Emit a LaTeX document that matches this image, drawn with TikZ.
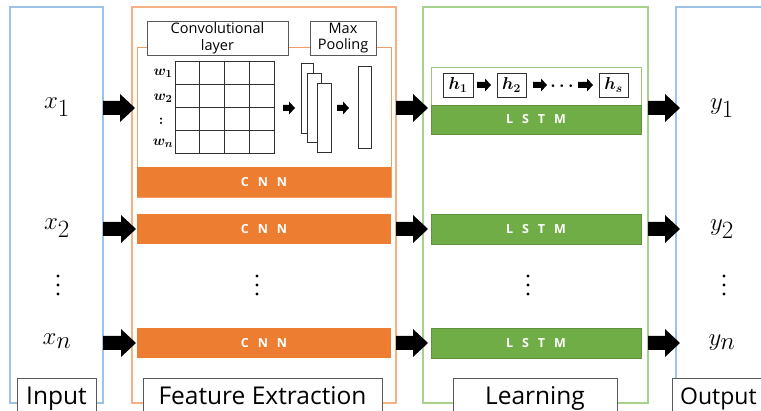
\documentclass[tikz,border=0pt]{standalone}
\usepackage[no-math]{fontspec}
\setmainfont{Open Sans}
\usepackage{bm}
\usetikzlibrary{calc}
\definecolor{cnnor}{HTML}{ED7D31}
\definecolor{lstmgr}{HTML}{70AD47}
\definecolor{lightor}{HTML}{F4B183}
\definecolor{lightgr}{HTML}{A9D18E}
\definecolor{lightbl}{HTML}{9DC3E6}
\definecolor{lblgray}{HTML}{595959}
\definecolor{darkln}{HTML}{303030}
\newcommand\blockarr[5]{\fill[black] ($(#1)+(0,#3)$) -- ($(#2)+(-#5,#3)$) -- ($(#2)+(-#5,#4)$) -- (#2) -- ($(#2)+(-#5,-#4)$) -- ($(#2)+(-#5,-#3)$) -- ($(#1)+(0,-#3)$) -- cycle;}
\newcommand\vdotsat[1]{\fill[black] ($(#1)+(0,-9)$) circle (1.7) (#1) circle (1.7) ($(#1)+(0,9)$) circle (1.7);}
\begin{document}
\begin{tikzpicture}[x=1pt,y=-1pt,
  rect/.style={inner sep=0pt, outer sep=0pt, anchor=north west, line width=1pt},
  outerbox/.style={rect, line width=1.1pt},
  lblbox/.style={rect, draw=lblgray, fill=white, line width=0.9pt},
  lbltext/.style={anchor=base, font=\fontsize{24.5}{26}\selectfont, inner sep=0pt},
  cnnbar/.style={rect, fill=cnnor, text=white, font=\fontsize{12.5}{13}\selectfont\bfseries, minimum width=254pt, minimum height=30pt},
  lstmbar/.style={rect, fill=lstmgr, draw=lstmgr!85!black, line width=0.6pt, text=white, font=\fontsize{12.5}{13}\selectfont\bfseries, minimum width=210pt, minimum height=30pt},
  toplbl/.style={rect, draw=lblgray, fill=white, line width=0.9pt, align=center, font=\fontsize{14.5}{16.5}\selectfont, minimum height=34pt},
  mathlbl/.style={inner sep=0pt, font=\fontsize{34}{34}\selectfont},
  wlbl/.style={inner sep=0pt, font=\fontsize{15}{15}\selectfont},
  fmap/.style={rect, draw=darkln, fill=white, line width=0.8pt},
  hbox/.style={rect, draw=darkln, fill=white, line width=0.8pt, font=\fontsize{18}{18}\selectfont, minimum height=24pt}
]
\clip (0,0) rectangle (761,411);
\fill[white] (0,0) rectangle (761,411);
% outer boxes
\node[outerbox, draw=lightbl, minimum width=93pt, minimum height=396pt] (inbox) at (10,7) {};
\node[outerbox, draw=lightor, minimum width=264pt, minimum height=396pt] (featbox) at (132,7) {};
\node[outerbox, draw=lightgr, minimum width=225pt, minimum height=396pt] (learnbox) at (423,7) {};
\node[outerbox, draw=lightbl, minimum width=130pt, minimum height=396pt] (outbox) at (676,7) {};
% rows
\coordinate (r1) at (0,108);
\coordinate (r2) at (0,229);
\coordinate (rn) at (0,343);
% CNN panel
\node[rect, draw=cnnor!75, fill=white, line width=0.8pt, minimum width=254pt, minimum height=150pt] (cnnpanel) at (137,47) {};
\node[cnnbar] (cnn1) at (137,167) {C\hspace{9pt}N\hspace{9pt}N};
\node[cnnbar] (cnn2) at (137,214) {C\hspace{9pt}N\hspace{9pt}N};
\node[cnnbar] (cnnn) at (137,328) {C\hspace{9pt}N\hspace{9pt}N};
\node[toplbl, minimum width=141pt] (convl) at (147,21) {Convolutional\\layer};
\node[toplbl, minimum width=66pt] (maxp) at (310,21) {Max\\Pooling};
% grid
\node[rect, minimum width=99pt, minimum height=92pt] (grid) at (175,61) {};
\draw[darkln, line width=0.9pt] (175,61) rectangle (274,153);
\foreach \i in {1,2,3} {
  \draw[darkln, line width=0.9pt] ({175+\i*24.75},61) -- ({175+\i*24.75},153);
  \draw[darkln, line width=0.9pt] (175,{61+\i*23}) -- (274,{61+\i*23});
}
\node[wlbl] (w1) at (163,73) {$\bm{w_1}$};
\node[wlbl] (w2) at (163,98) {$\bm{w_2}$};
\node[wlbl] (wc) at (161,121) {$\bm{:}$};
\node[wlbl] (wn) at (163,143) {$\bm{w_n}$};
% feature maps
\node[fmap, minimum width=12pt, minimum height=70pt] (fm1) at (301,63) {};
\node[fmap, minimum width=14pt, minimum height=69pt] (fm2) at (307,73) {};
\node[fmap, minimum width=14pt, minimum height=69pt] (fm3) at (317,83) {};
\node[fmap, minimum width=13pt, minimum height=82pt] (pool) at (358,66) {};
\coordinate (s1s) at ($(grid.east |- r1)+(9,0)$);
\coordinate (s1e) at ($(fm1.west |- r1)+(-6,0)$);
\blockarr{s1s}{s1e}{3}{6.5}{6}
\coordinate (s2s) at ($(fm3.east |- r1)+(6,0)$);
\coordinate (s2e) at ($(pool.west |- r1)+(-9,0)$);
\blockarr{s2s}{s2e}{3}{6.5}{6}
% LSTM
\node[rect, draw=lstmgr!70, fill=white, line width=0.8pt, minimum width=210pt, minimum height=67pt] (lstmpanel) at (431,67) {};
\node[lstmbar, minimum height=29pt] (lstm1) at (431,105) {L\hspace{9pt}S\hspace{9pt}T\hspace{9pt}M};
\node[lstmbar] (lstm2) at (431,214) {L\hspace{9pt}S\hspace{9pt}T\hspace{9pt}M};
\node[lstmbar] (lstmn) at (431,328) {L\hspace{9pt}S\hspace{9pt}T\hspace{9pt}M};
\node[hbox, minimum width=30pt] (h1) at (443,73) {$\bm{h_1}$};
\node[hbox, minimum width=29pt] (h2) at (497,73) {$\bm{h_2}$};
\node[hbox, minimum width=29pt] (hs) at (599,73) {$\bm{h_s}$};
\node[inner sep=0pt, font=\fontsize{17}{17}\selectfont] (hdots) at (562,86) {$\bm{\cdots}$};
\coordinate (ha1s) at ($(h1.east)+(4,0)$);
\coordinate (ha1e) at ($(h2.west)+(-6,0)$);
\blockarr{ha1s}{ha1e}{3}{6.5}{6}
\coordinate (ha2s) at ($(h2.east)+(7,0)$);
\coordinate (ha2e) at ($(h2.east)+(21,0)$);
\blockarr{ha2s}{ha2e}{3}{6.5}{6}
\coordinate (ha3s) at ($(hs.west)+(-21,0)$);
\coordinate (ha3e) at ($(hs.west)+(-6,0)$);
\blockarr{ha3s}{ha3e}{3}{6.5}{6}
% math labels
\node[mathlbl] (x1) at (57,107) {$x_1$};
\node[mathlbl] (x2) at (57,228) {$x_2$};
\node[mathlbl] (xn) at (57,341) {$x_n$};
\node[mathlbl] (y1) at (722,108) {$y_1$};
\node[mathlbl] (y2) at (722,229) {$y_2$};
\node[mathlbl] (yn) at (722,343) {$y_n$};
\coordinate (d1) at (58,285); \vdotsat{d1}
\coordinate (d2) at (257,285); \vdotsat{d2}
\coordinate (d3) at (528,285); \vdotsat{d3}
\coordinate (d4) at (724,285); \vdotsat{d4}
% big arrows
\coordinate (i1s) at (inbox.east |- r1);
\coordinate (i1e) at ($(cnnpanel.west |- r1)+(-2,0)$);
\coordinate (i2s) at (inbox.east |- r2);
\coordinate (i2e) at ($(cnn2.west |- r2)+(-1,0)$);
\coordinate (ins) at (inbox.east |- rn);
\coordinate (ine) at ($(cnnn.west |- rn)+(-1,0)$);
\coordinate (f1s) at (featbox.east |- r1);
\coordinate (f1e) at ($(lstmpanel.west |- r1)+(-3,0)$);
\coordinate (f2s) at (featbox.east |- r2);
\coordinate (f2e) at ($(lstm2.west |- r2)+(-3,0)$);
\coordinate (fns) at (featbox.east |- rn);
\coordinate (fne) at ($(lstmn.west |- rn)+(-3,0)$);
\coordinate (l1s) at (learnbox.east |- r1);
\coordinate (l1e) at ($(outbox.west |- r1)+(4,0)$);
\coordinate (l2s) at (learnbox.east |- r2);
\coordinate (l2e) at ($(outbox.west |- r2)+(4,0)$);
\coordinate (lns) at (learnbox.east |- rn);
\coordinate (lne) at ($(outbox.west |- rn)+(4,0)$);
\foreach \a/\b in {i1s/i1e,i2s/i2e,ins/ine,f1s/f1e,f2s/f2e,fns/fne,l1s/l1e,l2s/l2e,lns/lne} {
  \blockarr{\a}{\b}{7}{14}{15}
}
% bottom labels
\node[lblbox, minimum width=79pt, minimum height=45pt] (inlbl) at (17,378) {};
\node[lbltext] at ($(inlbl.north)+(0,27)$) {Input};
\node[lblbox, minimum width=239pt, minimum height=45pt] (featlbl) at (143,378) {};
\node[lbltext] at ($(featlbl.north)+(0,27)$) {Feature Extraction};
\node[lblbox, minimum width=164pt, minimum height=45pt] (learnlbl) at (453,378) {};
\node[lbltext] at ($(learnlbl.north)+(0,27)$) {Learning};
\node[lblbox, minimum width=120pt, minimum height=45pt] (outlbl) at (672,378) {};
\node[lbltext, anchor=base west, font=\fontsize{23}{25}\selectfont] at (680,405) {Output};
\end{tikzpicture}
\end{document}
